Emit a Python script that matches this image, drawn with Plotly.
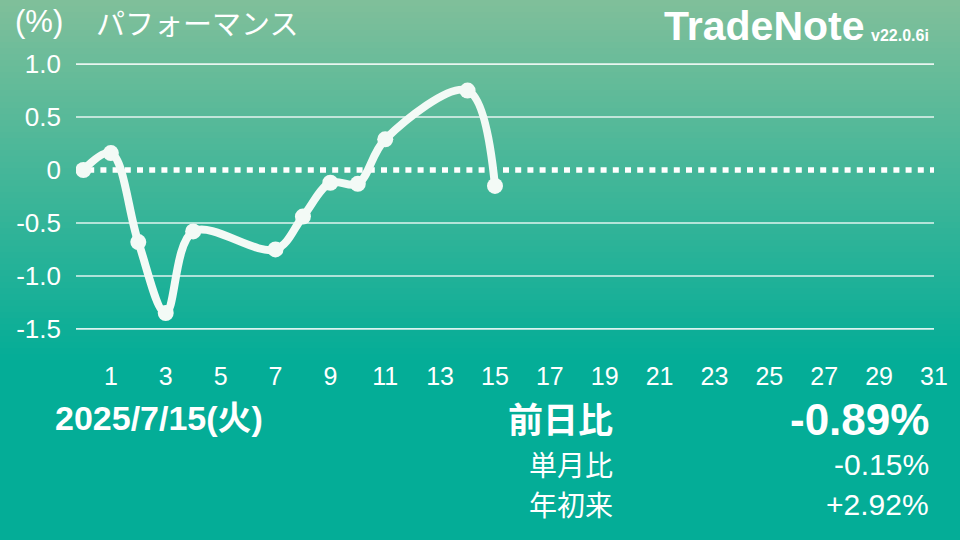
import plotly.graph_objects as go

# ---- data ----
days = [0, 1, 2, 3, 4, 7, 8, 9, 10, 11, 14, 15]
perf = [0.0, 0.16, -0.68, -1.35, -0.58, -0.75, -0.44, -0.12, -0.13, 0.29, 0.75, -0.15]
x_ticks = [1, 3, 5, 7, 9, 11, 13, 15, 17, 19, 21, 23, 25, 27, 29, 31]
y_ticks = [1.0, 0.5, 0.0, -0.5, -1.0, -1.5]
y_tick_labels = ["1.0", "0.5", "0", "-0.5", "-1.0", "-1.5"]
grid_vals = [1.0, 0.5, -0.5, -1.0, -1.5]

title_unit = "(%)"
title_text = "パフォーマンス"
brand = "TradeNote"
version = "v22.0.6i"
date_label = "2025/7/15(火)"
stat_labels = ["前日比", "単月比", "年初来"]
stat_values = ["-0.89%", "-0.15%", "+2.92%"]

W, H = 960, 540
ML, MR, MT, MB = 76, 24, 62, 209
PH = H - MT - MB

FONT = "Liberation Sans, Helvetica, Arial, Noto Sans CJK JP, sans-serif"
JFONT = "Noto Sans CJK JP, Liberation Sans, sans-serif"
WHITE = "#ffffff"

fig = go.Figure()
fig.add_trace(go.Scatter(
    x=days, y=perf, mode="lines+markers",
    line=dict(color="#f3faf6", width=8, shape="spline", smoothing=1.0),
    marker=dict(color="#f3faf6", size=16),
    hoverinfo="skip", showlegend=False,
))

shapes = []
# vertical gradient background (paper coords spanning whole page)
top_c = (128, 191, 154)
bot_c = (4, 173, 151)
grad_end = 360
N = 90
step = H / N
for i in range(N):
    y0px = i * step
    y1px = (i + 1) * step + 0.6
    t = min(1.0, (y0px + step / 2) / grad_end)
    c = tuple(round(top_c[k] + (bot_c[k] - top_c[k]) * t) for k in range(3))
    shapes.append(dict(
        type="rect", xref="paper", yref="paper", layer="below",
        x0=-ML / (W - ML - MR) - 0.01, x1=1 + MR / (W - ML - MR) + 0.01,
        y0=1 - (y1px - MT) / PH, y1=1 - (y0px - MT) / PH,
        line=dict(width=0), fillcolor="rgb(%d,%d,%d)" % c,
    ))
# grid lines
for g in grid_vals:
    shapes.append(dict(type="line", xref="paper", yref="y", layer="below",
                       x0=0, x1=1, y0=g, y1=g,
                       line=dict(color="rgba(255,255,255,0.85)", width=1.6)))
# dotted zero line
shapes.append(dict(type="line", xref="paper", yref="y", layer="below",
                   x0=0, x1=1, y0=0, y1=0,
                   line=dict(color=WHITE, width=5.5, dash="6px,6.2px")))

annotations = [
    dict(text=title_unit, x=13, y=22, font=dict(size=31, family=FONT), xanchor="left"),
    dict(text=title_text, x=94, y=22, font=dict(size=29, family=JFONT), xanchor="left"),
    dict(text="<b>%s</b>" % brand, x=869, y=26, font=dict(size=41, family=FONT), xanchor="right"),
    dict(text="<b>%s</b>" % version, x=871, y=35, font=dict(size=16, family=FONT), xanchor="left"),
    dict(text="<b>%s</b>" % date_label, x=53, y=418, font=dict(size=34, family=FONT), xanchor="left"),
    dict(text="<b>%s</b>" % stat_labels[0], x=616, y=417, font=dict(size=35, family=JFONT), xanchor="right"),
    dict(text="<b>%s</b>" % stat_values[0], x=933, y=419, font=dict(size=44, family=FONT), xanchor="right"),
    dict(text=stat_labels[1], x=616, y=464, font=dict(size=28, family=JFONT), xanchor="right"),
    dict(text=stat_values[1], x=933, y=464, font=dict(size=30, family=FONT), xanchor="right"),
    dict(text=stat_labels[2], x=616, y=504, font=dict(size=28, family=JFONT), xanchor="right"),
    dict(text=stat_values[2], x=933, y=504, font=dict(size=30, family=FONT), xanchor="right"),
]
ann = []
for a in annotations:
    f = a["font"]
    f["color"] = WHITE
    ann.append(dict(text=a["text"], xref="paper", yref="paper",
                    x=(a["x"] - ML) / (W - ML - MR), y=1 - (a["y"] - MT) / PH,
                    xanchor=a["xanchor"], yanchor="middle", showarrow=False, font=f))

fig.update_layout(
    width=W, height=H,
    margin=dict(l=ML, r=MR, t=MT, b=MB, pad=0),
    paper_bgcolor="#04ad97", plot_bgcolor="rgba(0,0,0,0)",
    shapes=shapes, annotations=ann,
    xaxis=dict(range=[-0.27, 31], tickvals=x_ticks, showgrid=False, zeroline=False,
               showline=False, ticks="", ticklabelstandoff=28,
               tickfont=dict(size=25, color=WHITE, family=FONT), fixedrange=True),
    yaxis=dict(range=[-1.52, 1.02], tickvals=y_ticks, ticktext=y_tick_labels,
               showgrid=False, zeroline=False, showline=False, ticks="",
               ticklabelstandoff=14,
               tickfont=dict(size=26, color=WHITE, family=FONT), fixedrange=True),
    font=dict(family=FONT, color=WHITE),
)

fig.write_html("out.html", config={"displayModeBar": False},
               post_script="document.body.style.margin='0';document.body.style.overflow='hidden';")
